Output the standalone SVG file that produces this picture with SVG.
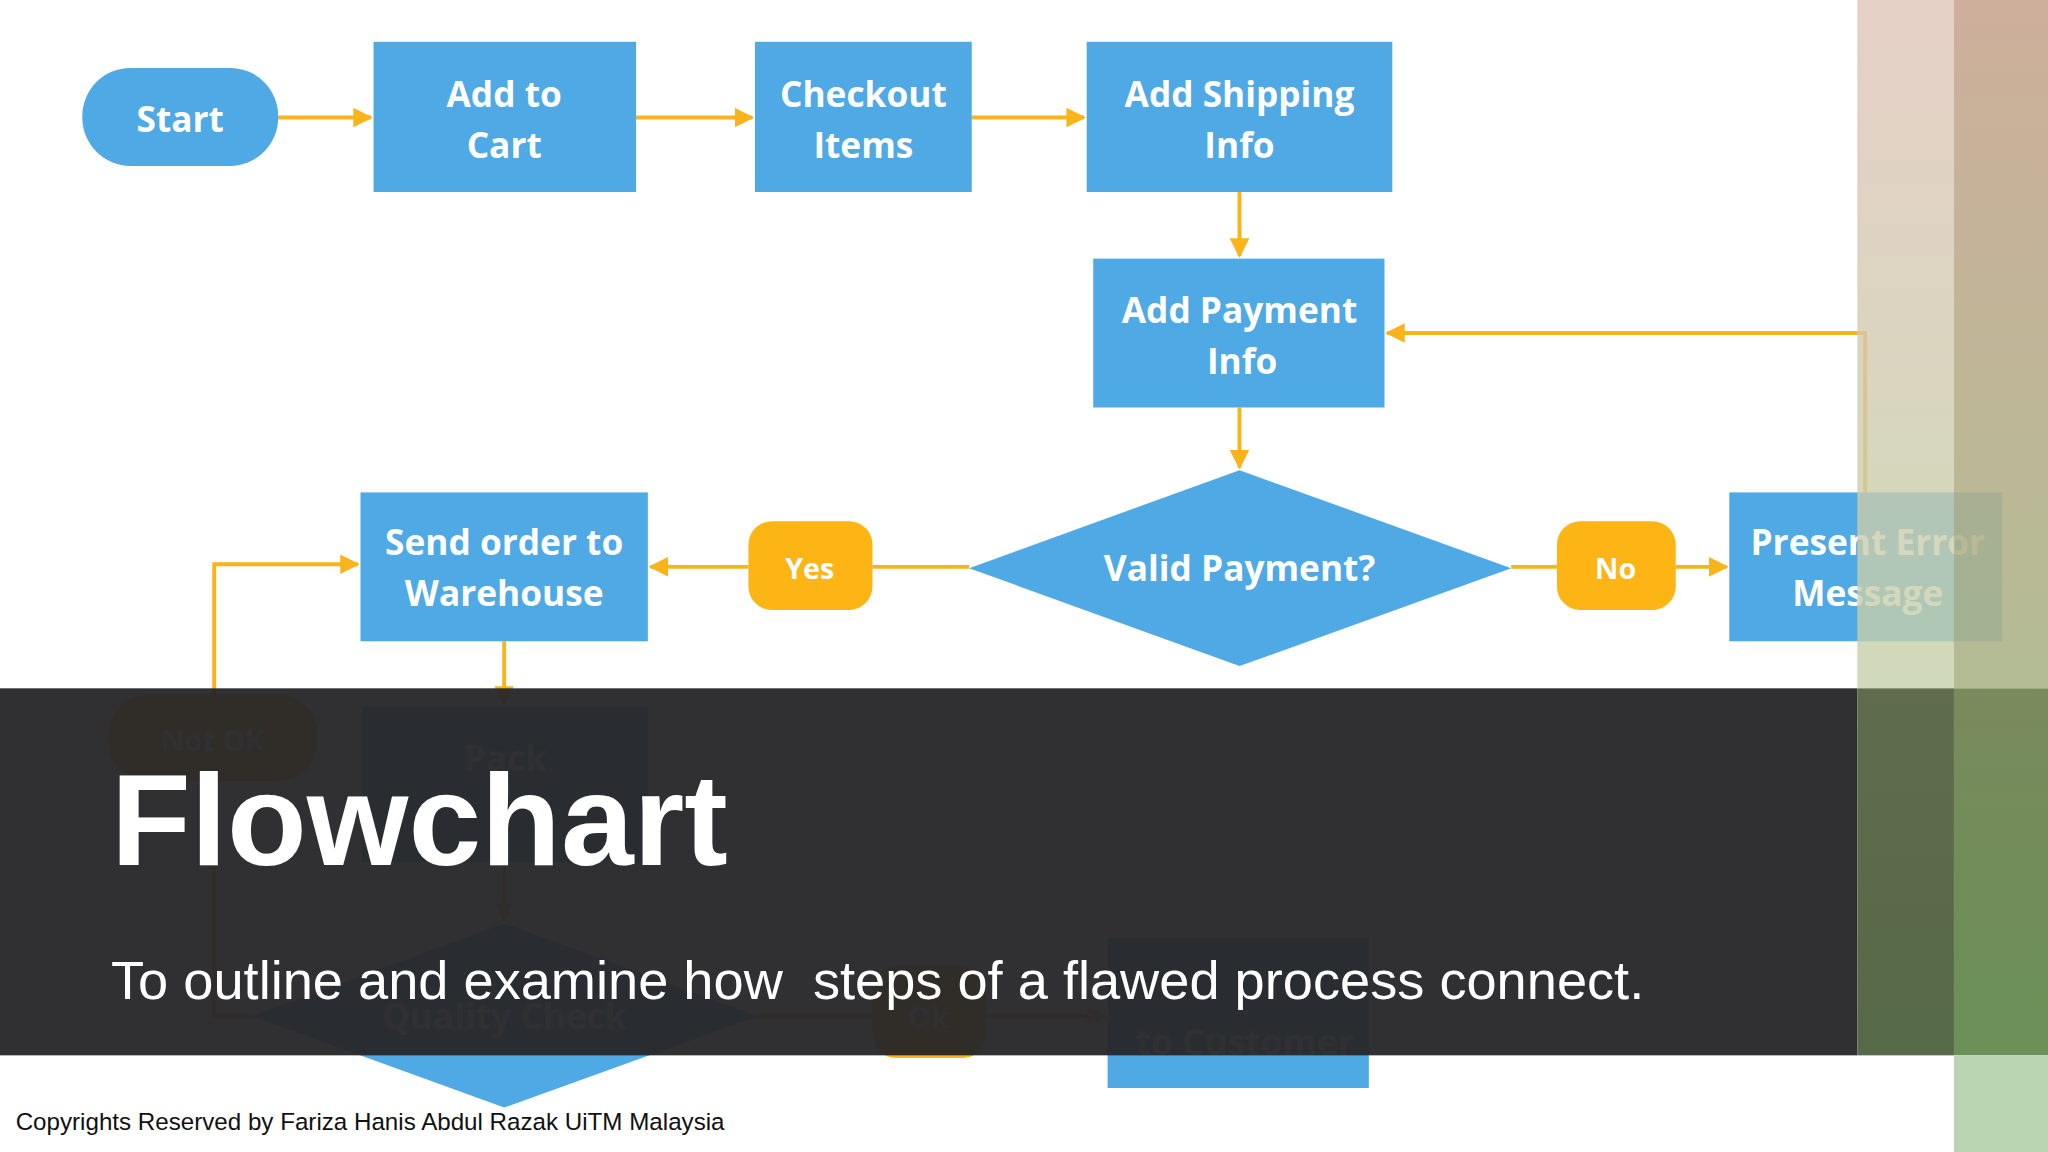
<svg xmlns="http://www.w3.org/2000/svg" width="2048" height="1152" viewBox="0 0 2048 1152">
<defs>
<style>
.n{fill:#4fa9e4}
.p{fill:#fdb515}
.t{font-family:"Open Sans","DejaVu Sans",sans-serif;font-weight:bold;font-size:27px;fill:#fff;text-anchor:middle}
.c{stroke:#f9b31b;stroke-width:3;fill:none}
</style>
<marker id="a" viewBox="0 0 10 10" refX="9" refY="5" markerWidth="5" markerHeight="5" orient="auto"><path d="M0,0L10,5L0,10z" fill="#f9b31b"/></marker>
<linearGradient id="s1" x1="0" y1="0" x2="0" y2="1"><stop offset="0" stop-color="#dfc4b8"/><stop offset="1" stop-color="#c4d0a8"/></linearGradient>
<linearGradient id="s2" x1="0" y1="0" x2="0" y2="1"><stop offset="0" stop-color="#c8a690"/><stop offset="1" stop-color="#aab488"/></linearGradient>
<linearGradient id="b1" x1="0" y1="0" x2="0" y2="1"><stop offset="0" stop-color="#606c4c"/><stop offset="1" stop-color="#566948"/></linearGradient>
<linearGradient id="b2" x1="0" y1="0" x2="0" y2="1"><stop offset="0" stop-color="#7a8a5c"/><stop offset="1" stop-color="#6a9058"/></linearGradient>
</defs>
<rect width="2048" height="1152" fill="#fff"/>
<g transform="scale(1.30612)">
<g id="connectors">
<path class="c" d="M213,90H284" marker-end="url(#a)"/>
<path class="c" d="M487,90H576" marker-end="url(#a)"/>
<path class="c" d="M744,90H830" marker-end="url(#a)"/>
<path class="c" d="M949,147V196" marker-end="url(#a)"/>
<path class="c" d="M949,312V358" marker-end="url(#a)"/>
<path class="c" d="M742,434H668"/>
<path class="c" d="M573,434H498" marker-end="url(#a)"/>
<path class="c" d="M1157,434H1192"/>
<path class="c" d="M1283,434H1322" marker-end="url(#a)"/>
<path class="c" d="M1428,377V255H1062" marker-end="url(#a)"/>
<path class="c" d="M164,532V432H274" marker-end="url(#a)"/>
<path class="c" d="M386,491V539" marker-end="url(#a)"/>
<path class="c" d="M386,660V705" marker-end="url(#a)"/>
<path class="c" d="M164,598V778H193"/>
<path class="c" d="M580,778H668"/>
<path class="c" d="M755,778H846" marker-end="url(#a)"/>
</g>
<g id="start"><rect class="n" x="63" y="52" width="150" height="75" rx="37"/><text class="t" x="138" y="101">Start</text></g>
<g id="cart"><rect class="n" x="286" y="32" width="201" height="115"/><text class="t" x="386" y="82">Add to</text><text class="t" x="386" y="121">Cart</text></g>
<g id="checkout"><rect class="n" x="578" y="32" width="166" height="115"/><text class="t" x="661" y="82">Checkout</text><text class="t" x="661" y="121">Items</text></g>
<g id="shipping"><rect class="n" x="832" y="32" width="234" height="115"/><text class="t" x="949" y="82">Add Shipping</text><text class="t" x="949" y="121">Info</text></g>
<g id="payment"><rect class="n" x="837" y="198" width="223" height="114"/><text class="t" x="949" y="247">Add Payment</text><text class="t" x="951" y="286">Info</text></g>
<g id="valid"><path class="n" d="M742,435L949,360L1157,435L949,510z"/><text class="t" x="949" y="445">Valid Payment?</text></g>
<g id="yes"><rect class="p" x="573" y="399" width="95" height="68" rx="18"/><text class="t" x="620" y="443" style="font-size:22px">Yes</text></g>
<g id="no"><rect class="p" x="1192" y="399" width="91" height="68" rx="18"/><text class="t" x="1237" y="443" style="font-size:22px">No</text></g>
<g id="error"><rect class="n" x="1324" y="377" width="209" height="114"/><text class="t" x="1430" y="425">Present Error</text><text class="t" x="1430" y="464">Message</text></g>
<g id="warehouse"><rect class="n" x="276" y="377" width="220" height="114"/><text class="t" x="386" y="425">Send order to</text><text class="t" x="386" y="464">Warehouse</text></g>
<g id="notok"><rect class="p" x="83" y="532" width="160" height="66" rx="30"/><text class="t" x="163" y="575" style="font-size:22px">Not OK</text></g>
<g id="pack"><rect class="n" x="277" y="541" width="219" height="119"/><text class="t" x="387" y="590">Pack</text></g>
<g id="quality"><path class="n" d="M193,778L386,707L580,778L386,848z"/><text class="t" x="386" y="788">Quality Check</text></g>
<g id="ok"><rect class="p" x="668" y="740" width="87" height="70" rx="18"/><text class="t" x="711" y="787" style="font-size:22px">Ok</text></g>
<g id="ship"><rect class="n" x="848" y="718" width="200" height="115"/><text class="t" x="953" y="808">to Customer</text></g>
<rect x="0" y="527" width="1422" height="281" fill="#28272a" opacity="0.96"/>
<rect x="1422" y="0" width="74" height="527" fill="url(#s1)" opacity="0.8"/>
<rect x="1496" y="0" width="72" height="527" fill="url(#s2)" opacity="0.9"/>
<rect x="1422" y="527" width="74" height="281" fill="url(#b1)"/>
<rect x="1496" y="527" width="72" height="281" fill="url(#b2)"/>
<rect x="1496" y="808" width="72" height="74" fill="#b9d5b2"/>
<text x="85" y="662" font-family="Liberation Sans,Arial,sans-serif" font-weight="bold" font-size="100" fill="#fff">Flowchart</text>
<text x="85" y="765" font-family="Liberation Sans,Arial,sans-serif" font-size="41.5" fill="#fff" xml:space="preserve">To outline and examine how  steps of a flawed process connect.</text>
<text x="12" y="865" font-family="Liberation Sans,Arial,sans-serif" font-size="18.5" fill="#111">Copyrights Reserved by Fariza Hanis Abdul Razak UiTM Malaysia</text>
</g>
</svg>
